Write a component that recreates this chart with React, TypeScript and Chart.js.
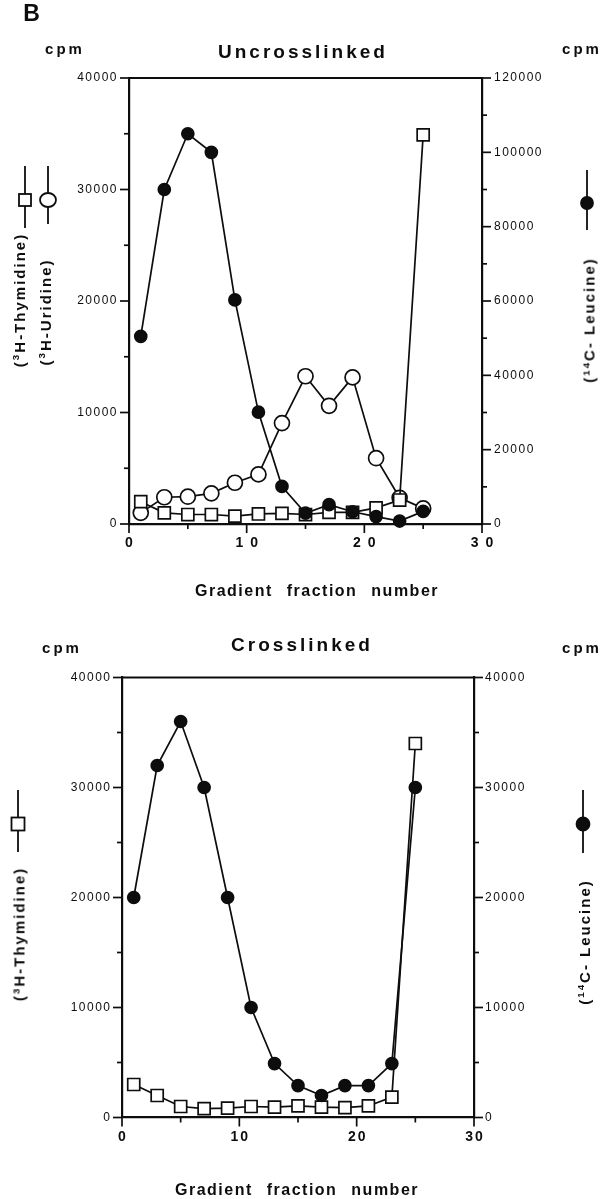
import React, { useEffect, useRef } from 'react';
import { Chart, registerables } from 'chart.js';

Chart.register(...registerables);

const INK = '#0d0d0d';
const FONT = "'Liberation Sans', Arial, Helvetica, sans-serif";

// Gradient fraction numbers (x)
const fractions = [1, 3, 5, 7, 9, 11, 13, 15, 17, 19, 21, 23, 25];

// Uncrosslinked panel
const unLeucine = [50500, 90000, 105000, 100000, 60300, 30100, 10100, 2900, 5200, 3300, 2000, 800, 3400];
const unUridine = [1000, 2400, 2450, 2750, 3700, 4450, 9050, 13250, 10600, 13150, 5900, 2350, 1400];
const unThymidine = [2000, 1000, 850, 850, 700, 900, 950, 850, 1050, 1050, 1450, 2150, 34900];

// Crosslinked panel
const crLeucine = [20000, 32000, 36000, 30000, 20000, 10000, 4900, 2900, 2000, 2900, 2900, 4900, 30000];
const crThymidine = [3000, 2000, 1000, 800, 850, 1000, 950, 1050, 950, 900, 1050, 1850, 34000];

// Axis ranges / tick steps
const xRange = [0, 30];
const xMajor = 10;
const xMinor = 5;
const unLeftRange = [0, 40000];
const unRightRange = [0, 120000];
const crLeftRange = [0, 40000];
const crRightRange = [0, 40000];

type Style = 'leucine' | 'uridine' | 'thymidine';

function dataset(label: string, values: number[], axis: string, style: Style) {
  const base: any = {
    label,
    data: fractions.map((x, i) => ({ x, y: values[i] })),
    yAxisID: axis,
    borderColor: INK,
    borderWidth: 1.7,
    pointBorderColor: INK,
    pointBorderWidth: 1.7,
    tension: 0,
    fill: false,
    clip: false,
  };
  if (style === 'leucine') {
    base.pointStyle = 'circle';
    base.pointRadius = 6;
    base.pointBackgroundColor = INK;
  } else if (style === 'uridine') {
    base.pointStyle = 'circle';
    base.pointRadius = 7.5;
    base.pointBackgroundColor = '#ffffff';
  } else {
    base.pointStyle = 'rect';
    base.pointRadius = 8.5;
    base.pointBackgroundColor = '#ffffff';
  }
  return base;
}

const framePlugin = {
  id: 'frame',
  beforeDraw(chart: any) {
    (chart.ctx as any).letterSpacing = '1.5px';
  },
  afterDatasetsDraw(chart: any, _args: any, opts: any) {
    (chart.ctx as any).letterSpacing = opts.xSpacing || '0px';
  },
  afterDraw(chart: any, _args: any, opts: any) {
    const ctx = chart.ctx;
    (ctx as any).letterSpacing = '0px';
    const { left, right, top } = chart.chartArea;
    ctx.save();
    ctx.strokeStyle = INK;
    ctx.lineWidth = 2.2;
    ctx.beginPath();
    ctx.moveTo(left - 1, top);
    ctx.lineTo(right + 1, top);
    ctx.stroke();
    ctx.lineWidth = 1.7;
    for (const t of opts.ticks || []) {
      const sc = chart.scales[t.id];
      for (let v = sc.min; v <= sc.max + 1e-6; v += t.minor) {
        const r = v / t.major;
        const isMajor = Math.abs(r - Math.round(r)) < 1e-6;
        const len = isMajor ? 9 : 5;
        const p = sc.getPixelForValue(v);
        ctx.beginPath();
        if (t.side === 'left') {
          ctx.moveTo(sc.right, p);
          ctx.lineTo(sc.right - len, p);
        } else if (t.side === 'right') {
          ctx.moveTo(sc.left, p);
          ctx.lineTo(sc.left + len, p);
        } else {
          ctx.moveTo(p, sc.top);
          ctx.lineTo(p, sc.top + len);
        }
        ctx.stroke();
      }
    }
    ctx.restore();
  },
};

function yAxis(pos: 'left' | 'right', range: number[], step: number, width: number, pad: number) {
  return {
    type: 'linear',
    position: pos,
    min: range[0],
    max: range[1],
    ticks: {
      stepSize: step,
      color: INK,
      padding: pad,
      font: { family: FONT, size: 12 },
      callback: (v: any) => String(v),
    },
    grid: { display: false, drawTicks: false },
    border: { display: true, color: INK, width: 2.2 },
    afterFit: (s: any) => {
      s.width = width;
    },
  };
}

function xAxis(height: number, spacing: number) {
  return {
    type: 'linear',
    position: 'bottom',
    min: xRange[0],
    max: xRange[1],
    ticks: {
      stepSize: xMajor,
      color: INK,
      padding: 11,
      labelOffset: spacing / 2,
      z: 1,
      font: { family: FONT, size: 14, weight: 'bold' },
      callback: (v: any) => String(v),
    },
    grid: { display: false, drawTicks: false },
    border: { display: true, color: INK, width: 2.2 },
    afterFit: (s: any) => {
      s.height = height;
    },
  };
}

function makeConfig(opts: {
  datasets: any[];
  padTop: number;
  xHeight: number;
  leftW: number;
  rightW: number;
  leftRange: number[];
  rightRange: number[];
  leftStep: number;
  rightStep: number;
  leftMinor: number;
  rightMinor: number;
  leftPad: number;
  rightPad: number;
  xSpacing: number;
}): any {
  return {
    type: 'line',
    data: { datasets: opts.datasets },
    plugins: [framePlugin],
    options: {
      responsive: false,
      animation: false,
      devicePixelRatio: 1,
      events: [],
      layout: { padding: { top: opts.padTop, left: 0, right: 0, bottom: 0 } },
      plugins: {
        legend: { display: false },
        tooltip: { enabled: false },
        title: { display: false },
        frame: {
          xSpacing: opts.xSpacing + 'px',
          ticks: [
            { id: 'yL', side: 'left', minor: opts.leftMinor, major: opts.leftStep },
            { id: 'yR', side: 'right', minor: opts.rightMinor, major: opts.rightStep },
            { id: 'x', side: 'bottom', minor: xMinor, major: xMajor },
          ],
        },
      },
      scales: {
        x: xAxis(opts.xHeight, opts.xSpacing),
        yL: yAxis('left', opts.leftRange, opts.leftStep, opts.leftW, opts.leftPad),
        yR: yAxis('right', opts.rightRange, opts.rightStep, opts.rightW, opts.rightPad),
      },
    },
  };
}

function T(props: {
  x: number;
  y: number;
  size: number;
  weight?: number;
  ls?: number;
  ws?: number;
  rotate?: boolean;
  children: React.ReactNode;
}) {
  const { x, y, size, weight = 700, ls = 0, ws = 0, rotate = false } = props;
  return (
    <div
      style={{
        position: 'absolute',
        left: x,
        top: y,
        transform: rotate ? 'translate(-50%,-50%) rotate(-90deg)' : 'translate(-50%,-50%)',
        fontSize: size,
        fontWeight: weight,
        letterSpacing: ls + 'px',
        wordSpacing: ws + 'px',
        lineHeight: 1,
        whiteSpace: 'nowrap',
      }}
    >
      {props.children}
    </div>
  );
}

const supStyle: React.CSSProperties = { fontSize: '0.65em', verticalAlign: '0.55em', lineHeight: 0 };

export default function App() {
  const c1 = useRef<HTMLCanvasElement>(null);
  const c2 = useRef<HTMLCanvasElement>(null);

  useEffect(() => {
    const ch1 = new Chart(
      c1.current as HTMLCanvasElement,
      makeConfig({
        datasets: [
          dataset('14C-Leucine', unLeucine, 'yR', 'leucine'),
          dataset('3H-Thymidine', unThymidine, 'yL', 'thymidine'),
          dataset('3H-Uridine', unUridine, 'yL', 'uridine'),
        ],
        padTop: 78,
        xHeight: 76,
        leftW: 129,
        rightW: 120,
        leftRange: unLeftRange,
        rightRange: unRightRange,
        leftStep: 10000,
        rightStep: 20000,
        leftMinor: 5000,
        rightMinor: 10000,
        leftPad: 11,
        rightPad: 12,
        xSpacing: 7,
      })
    );
    const ch2 = new Chart(
      c2.current as HTMLCanvasElement,
      makeConfig({
        datasets: [
          dataset('14C-Leucine', crLeucine, 'yR', 'leucine'),
          dataset('3H-Thymidine', crThymidine, 'yL', 'thymidine'),
        ],
        padTop: 77.5,
        xHeight: 81.5,
        leftW: 122,
        rightW: 128,
        leftRange: crLeftRange,
        rightRange: crRightRange,
        leftStep: 10000,
        rightStep: 10000,
        leftMinor: 5000,
        rightMinor: 5000,
        leftPad: 10.5,
        rightPad: 11,
        xSpacing: 2,
      })
    );
    return () => {
      ch1.destroy();
      ch2.destroy();
    };
  }, []);

  return (
    <div
      style={{
        position: 'absolute',
        left: 0,
        top: 0,
        width: 602,
        height: 1199,
        background: '#ffffff',
        fontFamily: FONT,
        color: INK,
        overflow: 'hidden',
      }}
    >
      <canvas ref={c1} width={602} height={600} style={{ position: 'absolute', left: 0, top: 0 }} />
      <canvas ref={c2} width={602} height={599} style={{ position: 'absolute', left: 0, top: 600 }} />

      <T x={31.5} y={12.5} size={23}>B</T>

      {/* Upper panel texts */}
      <T x={65} y={48} size={15} ls={3}>cpm</T>
      <T x={582} y={48} size={15} ls={3}>cpm</T>
      <T x={303} y={51} size={19} ls={3}>Uncrosslinked</T>
      <T x={317} y={591} size={16} ls={1.5} ws={8}>Gradient fraction number</T>
      <T x={18.5} y={300} size={15} ls={2} rotate>
        (<sup style={supStyle}>3</sup>H-Thymidine)
      </T>
      <T x={45} y={312} size={15} ls={2} rotate>
        (<sup style={supStyle}>3</sup>H-Uridine)
      </T>
      <T x={589} y={320} size={15} ls={2} rotate>
        (<sup style={supStyle}>14</sup>C- Leucine)
      </T>

      {/* Lower panel texts */}
      <T x={62} y={647} size={15} ls={3}>cpm</T>
      <T x={582} y={647} size={15} ls={3}>cpm</T>
      <T x={302} y={643.5} size={19} ls={3}>Crosslinked</T>
      <T x={297} y={1190} size={16} ls={1.5} ws={8}>Gradient fraction number</T>
      <T x={18.5} y={934} size={15} ls={2} rotate>
        (<sup style={supStyle}>3</sup>H-Thymidine)
      </T>
      <T x={583.5} y={942} size={15} ls={2} rotate>
        (<sup style={supStyle}>14</sup>C- Leucine)
      </T>

      {/* Legend glyphs beside axis labels */}
      <svg width={602} height={1199} style={{ position: 'absolute', left: 0, top: 0, pointerEvents: 'none' }}>
        <g stroke={INK} strokeWidth={1.8}>
          <line x1={25} y1={166} x2={25} y2={228} />
          <rect x={19} y={194} width={12} height={12} fill="#ffffff" />
          <line x1={48} y1={166} x2={48} y2={224} />
          <ellipse cx={48} cy={200} rx={8} ry={7} fill="#ffffff" />
          <line x1={587} y1={170} x2={587} y2={230} />
          <circle cx={587} cy={203} r={6} fill={INK} />

          <line x1={18} y1={790} x2={18} y2={852} />
          <rect x={11.5} y={817.5} width={13} height={13} fill="#ffffff" />
          <line x1={583} y1={790} x2={583} y2={853} />
          <circle cx={583} cy={824} r={6.5} fill={INK} />
        </g>
      </svg>
    </div>
  );
}
